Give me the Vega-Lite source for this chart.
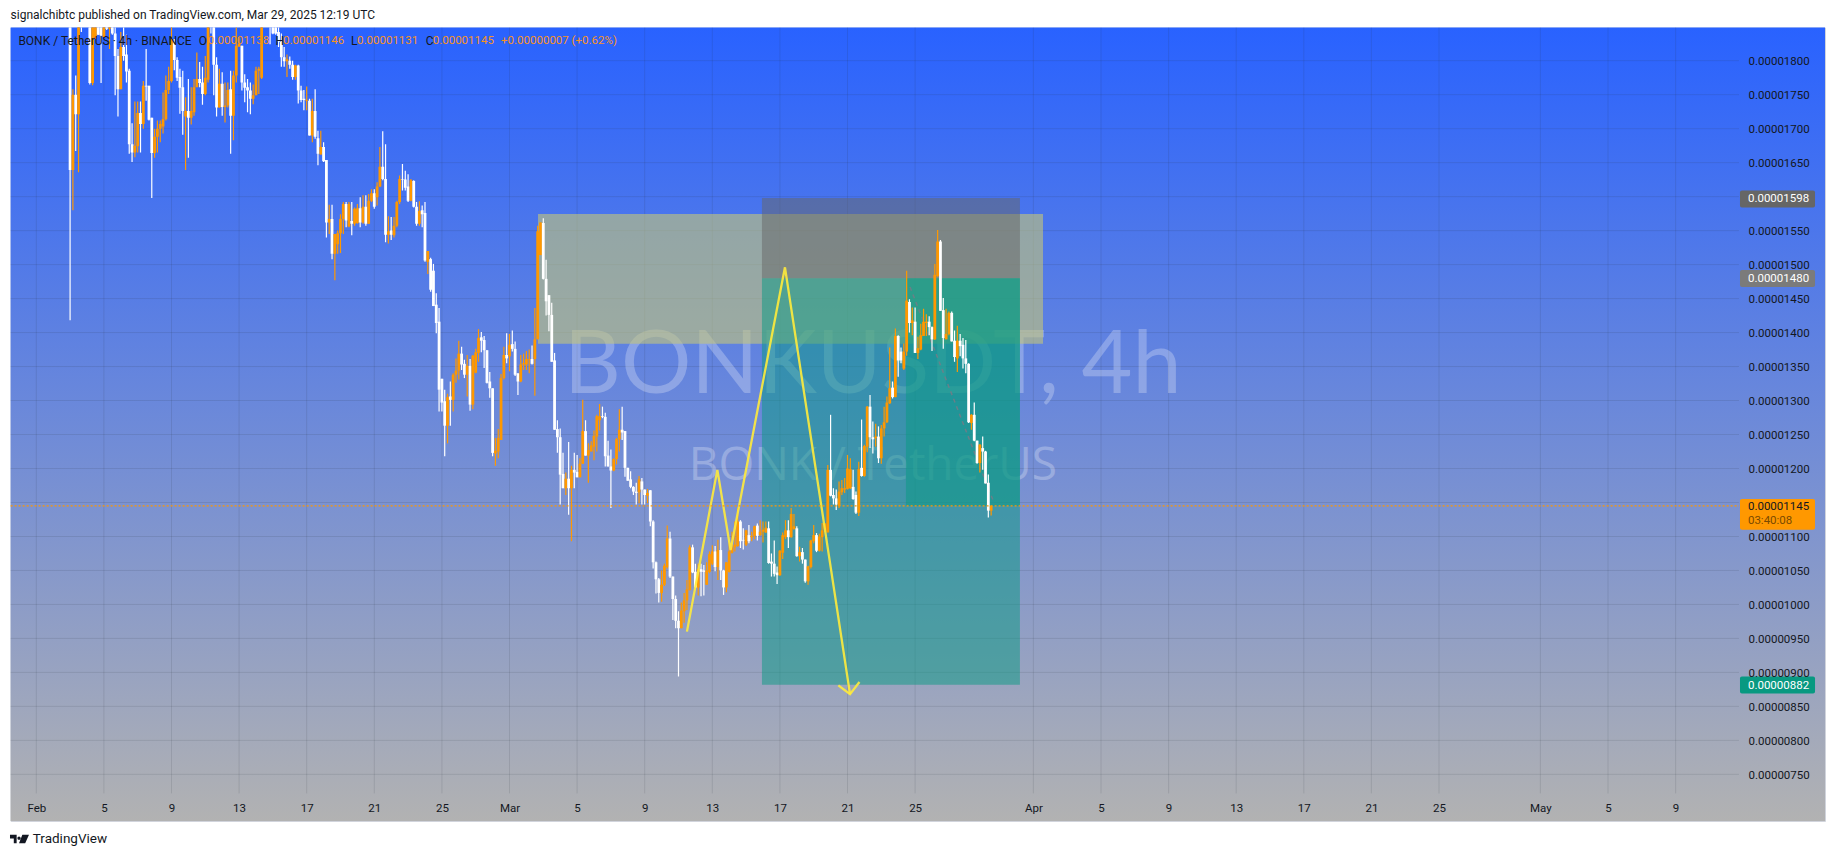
{"$schema":"https://vega.github.io/schema/vega-lite/v6.json","width":1814.4,"height":793.5,"autosize":{"type":"none"},"padding":{"left":10.6,"top":27.5,"right":10,"bottom":36},"background":"#ffffff","config":{"view":{"stroke":"#d1d4dc","strokeWidth":1},"font":"Roboto","scale":{"continuousPadding":0}},
"datasets":{
"candles":[
{"t":"2025-02-03T00:00Z","o":1900,"h":1920,"l":1418,"c":1639},{"t":"2025-02-03T04:00Z","o":1639,"h":1758,"l":1580,"c":1750},{"t":"2025-02-03T08:00Z","o":1750,"h":1778,"l":1667,"c":1721},{"t":"2025-02-03T12:00Z","o":1721,"h":1875,"l":1636,"c":1860},{"t":"2025-02-03T16:00Z","o":1860,"h":1880,"l":1842,"c":1853},{"t":"2025-02-03T20:00Z","o":1870,"h":1900,"l":1855,"c":1880},
{"t":"2025-02-04T00:00Z","o":1880,"h":1905,"l":1860,"c":1890},{"t":"2025-02-04T04:00Z","o":1890,"h":1900,"l":1765,"c":1767},{"t":"2025-02-04T08:00Z","o":1767,"h":1895,"l":1764,"c":1880},{"t":"2025-02-04T12:00Z","o":1834,"h":1890,"l":1832,"c":1875},{"t":"2025-02-04T16:00Z","o":1875,"h":1885,"l":1838,"c":1838},{"t":"2025-02-04T20:00Z","o":1860,"h":1870,"l":1767,"c":1837},
{"t":"2025-02-05T00:00Z","o":1835,"h":1870,"l":1835,"c":1860},{"t":"2025-02-05T04:00Z","o":1860,"h":1870,"l":1845,"c":1847},{"t":"2025-02-05T08:00Z","o":1847,"h":1865,"l":1817,"c":1855},{"t":"2025-02-05T12:00Z","o":1855,"h":1870,"l":1838,"c":1840},{"t":"2025-02-05T16:00Z","o":1840,"h":1860,"l":1749,"c":1807},{"t":"2025-02-05T20:00Z","o":1807,"h":1817,"l":1718,"c":1758},
{"t":"2025-02-06T00:00Z","o":1758,"h":1842,"l":1758,"c":1820},{"t":"2025-02-06T04:00Z","o":1820,"h":1855,"l":1800,"c":1807},{"t":"2025-02-06T08:00Z","o":1809,"h":1838,"l":1768,"c":1784},{"t":"2025-02-06T12:00Z","o":1785,"h":1788,"l":1663,"c":1677},{"t":"2025-02-06T16:00Z","o":1677,"h":1708,"l":1651,"c":1665},{"t":"2025-02-06T20:00Z","o":1665,"h":1740,"l":1658,"c":1675},
{"t":"2025-02-07T00:00Z","o":1674,"h":1740,"l":1665,"c":1723},{"t":"2025-02-07T04:00Z","o":1723,"h":1740,"l":1665,"c":1707},{"t":"2025-02-07T08:00Z","o":1707,"h":1770,"l":1700,"c":1763},{"t":"2025-02-07T12:00Z","o":1763,"h":1817,"l":1741,"c":1762},{"t":"2025-02-07T16:00Z","o":1763,"h":1763,"l":1712,"c":1713},{"t":"2025-02-07T20:00Z","o":1716,"h":1716,"l":1598,"c":1664},
{"t":"2025-02-08T00:00Z","o":1664,"h":1700,"l":1657,"c":1688},{"t":"2025-02-08T04:00Z","o":1688,"h":1712,"l":1665,"c":1700},{"t":"2025-02-08T08:00Z","o":1700,"h":1712,"l":1680,"c":1707},{"t":"2025-02-08T12:00Z","o":1703,"h":1753,"l":1693,"c":1714},{"t":"2025-02-08T16:00Z","o":1714,"h":1778,"l":1712,"c":1757},{"t":"2025-02-08T20:00Z","o":1757,"h":1791,"l":1751,"c":1770},
{"t":"2025-02-09T00:00Z","o":1770,"h":1860,"l":1768,"c":1832},{"t":"2025-02-09T04:00Z","o":1827,"h":1832,"l":1786,"c":1801},{"t":"2025-02-09T08:00Z","o":1801,"h":1805,"l":1770,"c":1775},{"t":"2025-02-09T12:00Z","o":1776,"h":1788,"l":1722,"c":1760},{"t":"2025-02-09T16:00Z","o":1761,"h":1785,"l":1691,"c":1726},{"t":"2025-02-09T20:00Z","o":1718,"h":1746,"l":1639,"c":1726},
{"t":"2025-02-10T00:00Z","o":1726,"h":1773,"l":1657,"c":1716},{"t":"2025-02-10T04:00Z","o":1716,"h":1761,"l":1706,"c":1726},{"t":"2025-02-10T08:00Z","o":1724,"h":1773,"l":1719,"c":1761},{"t":"2025-02-10T12:00Z","o":1761,"h":1812,"l":1763,"c":1773},{"t":"2025-02-10T16:00Z","o":1773,"h":1798,"l":1761,"c":1767},{"t":"2025-02-10T20:00Z","o":1768,"h":1791,"l":1735,"c":1751},
{"t":"2025-02-11T00:00Z","o":1751,"h":1807,"l":1749,"c":1775},{"t":"2025-02-11T04:00Z","o":1772,"h":1880,"l":1768,"c":1860},{"t":"2025-02-11T08:00Z","o":1865,"h":1880,"l":1840,"c":1855},{"t":"2025-02-11T12:00Z","o":1855,"h":1870,"l":1749,"c":1794},{"t":"2025-02-11T16:00Z","o":1794,"h":1805,"l":1718,"c":1731},{"t":"2025-02-11T20:00Z","o":1731,"h":1788,"l":1731,"c":1766},
{"t":"2025-02-12T00:00Z","o":1766,"h":1783,"l":1719,"c":1732},{"t":"2025-02-12T04:00Z","o":1732,"h":1768,"l":1709,"c":1734},{"t":"2025-02-12T08:00Z","o":1734,"h":1768,"l":1731,"c":1757},{"t":"2025-02-12T12:00Z","o":1758,"h":1785,"l":1663,"c":1719},{"t":"2025-02-12T16:00Z","o":1719,"h":1785,"l":1683,"c":1778},{"t":"2025-02-12T20:00Z","o":1778,"h":1849,"l":1768,"c":1822},
{"t":"2025-02-13T00:00Z","o":1821,"h":1834,"l":1820,"c":1825},{"t":"2025-02-13T04:00Z","o":1822,"h":1822,"l":1756,"c":1768},{"t":"2025-02-13T08:00Z","o":1768,"h":1780,"l":1739,"c":1760},{"t":"2025-02-13T12:00Z","o":1761,"h":1773,"l":1724,"c":1756},{"t":"2025-02-13T16:00Z","o":1756,"h":1768,"l":1721,"c":1744},{"t":"2025-02-13T20:00Z","o":1744,"h":1765,"l":1736,"c":1749},
{"t":"2025-02-14T00:00Z","o":1749,"h":1791,"l":1749,"c":1785},{"t":"2025-02-14T04:00Z","o":1785,"h":1791,"l":1751,"c":1788},{"t":"2025-02-14T08:00Z","o":1775,"h":1875,"l":1773,"c":1860},{"t":"2025-02-14T12:00Z","o":1860,"h":1885,"l":1855,"c":1870},{"t":"2025-02-14T16:00Z","o":1870,"h":1890,"l":1860,"c":1880},{"t":"2025-02-14T20:00Z","o":1880,"h":1895,"l":1824,"c":1865},
{"t":"2025-02-15T00:00Z","o":1865,"h":1875,"l":1839,"c":1840},{"t":"2025-02-15T04:00Z","o":1855,"h":1870,"l":1838,"c":1840},{"t":"2025-02-15T08:00Z","o":1842,"h":1855,"l":1820,"c":1828},{"t":"2025-02-15T12:00Z","o":1828,"h":1840,"l":1791,"c":1805},{"t":"2025-02-15T16:00Z","o":1805,"h":1820,"l":1791,"c":1799},{"t":"2025-02-15T20:00Z","o":1799,"h":1809,"l":1776,"c":1802},
{"t":"2025-02-16T00:00Z","o":1800,"h":1806,"l":1788,"c":1794},{"t":"2025-02-16T04:00Z","o":1794,"h":1800,"l":1772,"c":1776},{"t":"2025-02-16T08:00Z","o":1776,"h":1794,"l":1772,"c":1793},{"t":"2025-02-16T12:00Z","o":1793,"h":1794,"l":1737,"c":1756},{"t":"2025-02-16T16:00Z","o":1756,"h":1763,"l":1739,"c":1742},{"t":"2025-02-16T20:00Z","o":1744,"h":1757,"l":1727,"c":1742},
{"t":"2025-02-17T00:00Z","o":1741,"h":1762,"l":1727,"c":1742},{"t":"2025-02-17T04:00Z","o":1741,"h":1744,"l":1690,"c":1690},{"t":"2025-02-17T08:00Z","o":1690,"h":1744,"l":1680,"c":1726},{"t":"2025-02-17T12:00Z","o":1726,"h":1758,"l":1685,"c":1688},{"t":"2025-02-17T16:00Z","o":1686,"h":1697,"l":1646,"c":1663},{"t":"2025-02-17T20:00Z","o":1662,"h":1697,"l":1662,"c":1673},
{"t":"2025-02-18T00:00Z","o":1673,"h":1680,"l":1651,"c":1652},{"t":"2025-02-18T04:00Z","o":1654,"h":1654,"l":1540,"c":1562},{"t":"2025-02-18T08:00Z","o":1562,"h":1588,"l":1545,"c":1567},{"t":"2025-02-18T12:00Z","o":1567,"h":1588,"l":1508,"c":1516},{"t":"2025-02-18T16:00Z","o":1516,"h":1545,"l":1477,"c":1545},{"t":"2025-02-18T20:00Z","o":1530,"h":1550,"l":1516,"c":1546},
{"t":"2025-02-19T00:00Z","o":1546,"h":1574,"l":1517,"c":1567},{"t":"2025-02-19T04:00Z","o":1567,"h":1592,"l":1545,"c":1589},{"t":"2025-02-19T08:00Z","o":1589,"h":1592,"l":1555,"c":1565},{"t":"2025-02-19T12:00Z","o":1556,"h":1592,"l":1555,"c":1589},{"t":"2025-02-19T16:00Z","o":1564,"h":1592,"l":1543,"c":1560},{"t":"2025-02-19T20:00Z","o":1560,"h":1584,"l":1557,"c":1582},
{"t":"2025-02-20T00:00Z","o":1561,"h":1589,"l":1560,"c":1583},{"t":"2025-02-20T04:00Z","o":1583,"h":1599,"l":1555,"c":1562},{"t":"2025-02-20T08:00Z","o":1562,"h":1602,"l":1560,"c":1585},{"t":"2025-02-20T12:00Z","o":1585,"h":1602,"l":1557,"c":1560},{"t":"2025-02-20T16:00Z","o":1560,"h":1604,"l":1560,"c":1594},{"t":"2025-02-20T20:00Z","o":1594,"h":1611,"l":1592,"c":1605},
{"t":"2025-02-21T00:00Z","o":1605,"h":1611,"l":1582,"c":1585},{"t":"2025-02-21T04:00Z","o":1599,"h":1621,"l":1587,"c":1615},{"t":"2025-02-21T08:00Z","o":1615,"h":1673,"l":1614,"c":1644},{"t":"2025-02-21T12:00Z","o":1644,"h":1696,"l":1624,"c":1626},{"t":"2025-02-21T16:00Z","o":1626,"h":1677,"l":1533,"c":1544},{"t":"2025-02-21T20:00Z","o":1544,"h":1571,"l":1531,"c":1549},
{"t":"2025-02-22T00:00Z","o":1550,"h":1570,"l":1536,"c":1544},{"t":"2025-02-22T04:00Z","o":1543,"h":1570,"l":1540,"c":1557},{"t":"2025-02-22T08:00Z","o":1557,"h":1594,"l":1555,"c":1592},{"t":"2025-02-22T12:00Z","o":1592,"h":1631,"l":1589,"c":1626},{"t":"2025-02-22T16:00Z","o":1626,"h":1648,"l":1609,"c":1625},{"t":"2025-02-22T20:00Z","o":1625,"h":1638,"l":1609,"c":1613},
{"t":"2025-02-23T00:00Z","o":1615,"h":1633,"l":1592,"c":1594},{"t":"2025-02-23T04:00Z","o":1594,"h":1626,"l":1593,"c":1624},{"t":"2025-02-23T08:00Z","o":1623,"h":1624,"l":1584,"c":1585},{"t":"2025-02-23T12:00Z","o":1585,"h":1592,"l":1557,"c":1560},{"t":"2025-02-23T16:00Z","o":1560,"h":1593,"l":1557,"c":1579},{"t":"2025-02-23T20:00Z","o":1580,"h":1587,"l":1555,"c":1574},
{"t":"2025-02-24T00:00Z","o":1576,"h":1592,"l":1504,"c":1506},{"t":"2025-02-24T04:00Z","o":1504,"h":1520,"l":1486,"c":1520},{"t":"2025-02-24T08:00Z","o":1508,"h":1510,"l":1460,"c":1463},{"t":"2025-02-24T12:00Z","o":1491,"h":1501,"l":1439,"c":1439},{"t":"2025-02-24T16:00Z","o":1441,"h":1458,"l":1399,"c":1414},{"t":"2025-02-24T20:00Z","o":1416,"h":1436,"l":1284,"c":1316},
{"t":"2025-02-25T00:00Z","o":1332,"h":1332,"l":1284,"c":1297},{"t":"2025-02-25T04:00Z","o":1299,"h":1316,"l":1218,"c":1263},{"t":"2025-02-25T08:00Z","o":1263,"h":1310,"l":1237,"c":1305},{"t":"2025-02-25T12:00Z","o":1306,"h":1328,"l":1263,"c":1301},{"t":"2025-02-25T16:00Z","o":1301,"h":1340,"l":1284,"c":1338},{"t":"2025-02-25T20:00Z","o":1338,"h":1362,"l":1326,"c":1344},
{"t":"2025-02-26T00:00Z","o":1344,"h":1388,"l":1331,"c":1369},{"t":"2025-02-26T04:00Z","o":1369,"h":1379,"l":1345,"c":1353},{"t":"2025-02-26T08:00Z","o":1354,"h":1360,"l":1333,"c":1338},{"t":"2025-02-26T12:00Z","o":1338,"h":1367,"l":1306,"c":1351},{"t":"2025-02-26T16:00Z","o":1351,"h":1361,"l":1285,"c":1294},{"t":"2025-02-26T20:00Z","o":1294,"h":1367,"l":1287,"c":1366},
{"t":"2025-02-27T00:00Z","o":1341,"h":1376,"l":1340,"c":1371},{"t":"2025-02-27T04:00Z","o":1370,"h":1405,"l":1357,"c":1392},{"t":"2025-02-27T08:00Z","o":1393,"h":1401,"l":1371,"c":1388},{"t":"2025-02-27T12:00Z","o":1389,"h":1395,"l":1348,"c":1374},{"t":"2025-02-27T16:00Z","o":1374,"h":1374,"l":1325,"c":1326},{"t":"2025-02-27T20:00Z","o":1328,"h":1342,"l":1304,"c":1318},
{"t":"2025-02-28T00:00Z","o":1318,"h":1318,"l":1218,"c":1223},{"t":"2025-02-28T04:00Z","o":1222,"h":1245,"l":1204,"c":1226},{"t":"2025-02-28T08:00Z","o":1225,"h":1258,"l":1215,"c":1245},{"t":"2025-02-28T12:00Z","o":1242,"h":1339,"l":1242,"c":1333},{"t":"2025-02-28T16:00Z","o":1333,"h":1379,"l":1331,"c":1367},{"t":"2025-02-28T20:00Z","o":1367,"h":1399,"l":1355,"c":1362},
{"t":"2025-03-01T00:00Z","o":1365,"h":1398,"l":1343,"c":1382},{"t":"2025-03-01T04:00Z","o":1383,"h":1403,"l":1372,"c":1376},{"t":"2025-03-01T08:00Z","o":1376,"h":1387,"l":1336,"c":1338},{"t":"2025-03-01T12:00Z","o":1340,"h":1340,"l":1308,"c":1328},{"t":"2025-03-01T16:00Z","o":1328,"h":1367,"l":1327,"c":1353},{"t":"2025-03-01T20:00Z","o":1353,"h":1369,"l":1345,"c":1355},
{"t":"2025-03-02T00:00Z","o":1353,"h":1373,"l":1345,"c":1361},{"t":"2025-03-02T04:00Z","o":1360,"h":1375,"l":1340,"c":1361},{"t":"2025-03-02T08:00Z","o":1361,"h":1381,"l":1353,"c":1354},{"t":"2025-03-02T12:00Z","o":1361,"h":1436,"l":1307,"c":1390},{"t":"2025-03-02T16:00Z","o":1390,"h":1557,"l":1390,"c":1549},{"t":"2025-03-02T20:00Z","o":1514,"h":1562,"l":1514,"c":1562},
{"t":"2025-03-03T00:00Z","o":1561,"h":1568,"l":1478,"c":1479},{"t":"2025-03-03T04:00Z","o":1479,"h":1507,"l":1425,"c":1446},{"t":"2025-03-03T08:00Z","o":1455,"h":1455,"l":1402,"c":1426},{"t":"2025-03-03T12:00Z","o":1426,"h":1444,"l":1357,"c":1357},{"t":"2025-03-03T16:00Z","o":1359,"h":1370,"l":1257,"c":1257},{"t":"2025-03-03T20:00Z","o":1258,"h":1271,"l":1223,"c":1246},
{"t":"2025-03-04T00:00Z","o":1246,"h":1259,"l":1147,"c":1191},{"t":"2025-03-04T04:00Z","o":1192,"h":1223,"l":1171,"c":1171},{"t":"2025-03-04T08:00Z","o":1171,"h":1194,"l":1161,"c":1185},{"t":"2025-03-04T12:00Z","o":1185,"h":1239,"l":1132,"c":1171},{"t":"2025-03-04T16:00Z","o":1171,"h":1204,"l":1093,"c":1198},{"t":"2025-03-04T20:00Z","o":1198,"h":1223,"l":1171,"c":1194},
{"t":"2025-03-05T00:00Z","o":1195,"h":1220,"l":1187,"c":1187},{"t":"2025-03-05T04:00Z","o":1187,"h":1215,"l":1187,"c":1207},{"t":"2025-03-05T08:00Z","o":1207,"h":1301,"l":1207,"c":1255},{"t":"2025-03-05T12:00Z","o":1255,"h":1271,"l":1219,"c":1219},{"t":"2025-03-05T16:00Z","o":1219,"h":1237,"l":1179,"c":1227},{"t":"2025-03-05T20:00Z","o":1225,"h":1240,"l":1225,"c":1234},
{"t":"2025-03-06T00:00Z","o":1232,"h":1256,"l":1212,"c":1248},{"t":"2025-03-06T04:00Z","o":1247,"h":1279,"l":1225,"c":1277},{"t":"2025-03-06T08:00Z","o":1271,"h":1295,"l":1256,"c":1277},{"t":"2025-03-06T12:00Z","o":1277,"h":1291,"l":1274,"c":1276},{"t":"2025-03-06T16:00Z","o":1276,"h":1282,"l":1203,"c":1218},{"t":"2025-03-06T20:00Z","o":1219,"h":1241,"l":1203,"c":1203},
{"t":"2025-03-07T00:00Z","o":1203,"h":1228,"l":1142,"c":1197},{"t":"2025-03-07T04:00Z","o":1197,"h":1215,"l":1196,"c":1214},{"t":"2025-03-07T08:00Z","o":1214,"h":1245,"l":1206,"c":1243},{"t":"2025-03-07T12:00Z","o":1243,"h":1287,"l":1225,"c":1257},{"t":"2025-03-07T16:00Z","o":1257,"h":1291,"l":1242,"c":1253},{"t":"2025-03-07T20:00Z","o":1255,"h":1255,"l":1188,"c":1201},
{"t":"2025-03-08T00:00Z","o":1201,"h":1201,"l":1182,"c":1182},{"t":"2025-03-08T04:00Z","o":1184,"h":1196,"l":1171,"c":1173},{"t":"2025-03-08T08:00Z","o":1173,"h":1174,"l":1161,"c":1166},{"t":"2025-03-08T12:00Z","o":1166,"h":1179,"l":1147,"c":1164},{"t":"2025-03-08T16:00Z","o":1165,"h":1189,"l":1149,"c":1184},{"t":"2025-03-08T20:00Z","o":1181,"h":1186,"l":1147,"c":1169},
{"t":"2025-03-09T00:00Z","o":1169,"h":1169,"l":1147,"c":1161},{"t":"2025-03-09T04:00Z","o":1160,"h":1170,"l":1149,"c":1164},{"t":"2025-03-09T08:00Z","o":1168,"h":1168,"l":1115,"c":1122},{"t":"2025-03-09T12:00Z","o":1122,"h":1124,"l":1053,"c":1062},{"t":"2025-03-09T16:00Z","o":1062,"h":1063,"l":1016,"c":1037},{"t":"2025-03-09T20:00Z","o":1037,"h":1039,"l":1003,"c":1017},
{"t":"2025-03-10T00:00Z","o":1017,"h":1050,"l":1004,"c":1029},{"t":"2025-03-10T04:00Z","o":1029,"h":1060,"l":1027,"c":1057},{"t":"2025-03-10T08:00Z","o":1055,"h":1116,"l":1053,"c":1097},{"t":"2025-03-10T12:00Z","o":1097,"h":1107,"l":1039,"c":1041},{"t":"2025-03-10T16:00Z","o":1041,"h":1041,"l":977,"c":1008},{"t":"2025-03-10T20:00Z","o":1008,"h":1013,"l":965,"c":976},
{"t":"2025-03-11T00:00Z","o":976,"h":990,"l":894,"c":965},{"t":"2025-03-11T04:00Z","o":965,"h":1003,"l":965,"c":991},{"t":"2025-03-11T08:00Z","o":990,"h":1017,"l":973,"c":1006},{"t":"2025-03-11T12:00Z","o":1006,"h":1036,"l":992,"c":1022},{"t":"2025-03-11T16:00Z","o":1021,"h":1087,"l":1021,"c":1084},{"t":"2025-03-11T20:00Z","o":1084,"h":1088,"l":1046,"c":1047},
{"t":"2025-03-12T00:00Z","o":1048,"h":1060,"l":1024,"c":1025},{"t":"2025-03-12T04:00Z","o":1025,"h":1060,"l":1013,"c":1052},{"t":"2025-03-12T08:00Z","o":1052,"h":1060,"l":1012,"c":1048},{"t":"2025-03-12T12:00Z","o":1050,"h":1058,"l":1013,"c":1048},{"t":"2025-03-12T16:00Z","o":1029,"h":1062,"l":1029,"c":1050},{"t":"2025-03-12T20:00Z","o":1048,"h":1078,"l":1046,"c":1074},
{"t":"2025-03-13T00:00Z","o":1060,"h":1087,"l":1058,"c":1078},{"t":"2025-03-13T04:00Z","o":1078,"h":1086,"l":1049,"c":1055},{"t":"2025-03-13T08:00Z","o":1055,"h":1095,"l":1036,"c":1080},{"t":"2025-03-13T12:00Z","o":1080,"h":1099,"l":1036,"c":1050},{"t":"2025-03-13T16:00Z","o":1050,"h":1051,"l":1014,"c":1025},{"t":"2025-03-13T20:00Z","o":1025,"h":1062,"l":1018,"c":1062},
{"t":"2025-03-14T00:00Z","o":1048,"h":1093,"l":1047,"c":1078},{"t":"2025-03-14T04:00Z","o":1076,"h":1107,"l":1075,"c":1084},{"t":"2025-03-14T08:00Z","o":1084,"h":1122,"l":1078,"c":1088},{"t":"2025-03-14T12:00Z","o":1086,"h":1142,"l":1085,"c":1122},{"t":"2025-03-14T16:00Z","o":1122,"h":1124,"l":1083,"c":1093},{"t":"2025-03-14T20:00Z","o":1095,"h":1112,"l":1081,"c":1094},
{"t":"2025-03-15T00:00Z","o":1088,"h":1110,"l":1086,"c":1109},{"t":"2025-03-15T04:00Z","o":1102,"h":1117,"l":1090,"c":1093},{"t":"2025-03-15T08:00Z","o":1099,"h":1107,"l":1093,"c":1101},{"t":"2025-03-15T12:00Z","o":1101,"h":1116,"l":1096,"c":1115},{"t":"2025-03-15T16:00Z","o":1116,"h":1119,"l":1094,"c":1101},{"t":"2025-03-15T20:00Z","o":1102,"h":1124,"l":1101,"c":1107},
{"t":"2025-03-16T00:00Z","o":1107,"h":1122,"l":1091,"c":1110},{"t":"2025-03-16T04:00Z","o":1106,"h":1122,"l":1105,"c":1113},{"t":"2025-03-16T08:00Z","o":1112,"h":1122,"l":1060,"c":1061},{"t":"2025-03-16T12:00Z","o":1063,"h":1075,"l":1041,"c":1060},{"t":"2025-03-16T16:00Z","o":1060,"h":1094,"l":1041,"c":1045},{"t":"2025-03-16T20:00Z","o":1047,"h":1056,"l":1030,"c":1043},
{"t":"2025-03-17T00:00Z","o":1043,"h":1080,"l":1042,"c":1079},{"t":"2025-03-17T04:00Z","o":1076,"h":1106,"l":1067,"c":1102},{"t":"2025-03-17T08:00Z","o":1099,"h":1124,"l":1096,"c":1109},{"t":"2025-03-17T12:00Z","o":1109,"h":1124,"l":1083,"c":1099},{"t":"2025-03-17T16:00Z","o":1099,"h":1142,"l":1098,"c":1133},{"t":"2025-03-17T20:00Z","o":1111,"h":1133,"l":1110,"c":1115},
{"t":"2025-03-18T00:00Z","o":1112,"h":1115,"l":1070,"c":1071},{"t":"2025-03-18T04:00Z","o":1071,"h":1085,"l":1063,"c":1077},{"t":"2025-03-18T08:00Z","o":1077,"h":1083,"l":1060,"c":1066},{"t":"2025-03-18T12:00Z","o":1066,"h":1066,"l":1032,"c":1034},{"t":"2025-03-18T16:00Z","o":1034,"h":1057,"l":1029,"c":1056},{"t":"2025-03-18T20:00Z","o":1055,"h":1095,"l":1053,"c":1094},
{"t":"2025-03-19T00:00Z","o":1093,"h":1117,"l":1090,"c":1102},{"t":"2025-03-19T04:00Z","o":1102,"h":1105,"l":1077,"c":1079},{"t":"2025-03-19T08:00Z","o":1079,"h":1104,"l":1078,"c":1100},{"t":"2025-03-19T12:00Z","o":1099,"h":1120,"l":1078,"c":1109},{"t":"2025-03-19T16:00Z","o":1110,"h":1120,"l":1107,"c":1119},{"t":"2025-03-19T20:00Z","o":1106,"h":1205,"l":1106,"c":1198},
{"t":"2025-03-20T00:00Z","o":1198,"h":1279,"l":1159,"c":1160},{"t":"2025-03-20T04:00Z","o":1161,"h":1171,"l":1147,"c":1156},{"t":"2025-03-20T08:00Z","o":1156,"h":1169,"l":1139,"c":1147},{"t":"2025-03-20T12:00Z","o":1145,"h":1181,"l":1142,"c":1166},{"t":"2025-03-20T16:00Z","o":1165,"h":1183,"l":1161,"c":1171},{"t":"2025-03-20T20:00Z","o":1169,"h":1186,"l":1164,"c":1171},
{"t":"2025-03-21T00:00Z","o":1170,"h":1220,"l":1169,"c":1200},{"t":"2025-03-21T04:00Z","o":1171,"h":1215,"l":1170,"c":1199},{"t":"2025-03-21T08:00Z","o":1173,"h":1198,"l":1154,"c":1155},{"t":"2025-03-21T12:00Z","o":1161,"h":1166,"l":1133,"c":1135},{"t":"2025-03-21T16:00Z","o":1135,"h":1210,"l":1130,"c":1199},{"t":"2025-03-21T20:00Z","o":1201,"h":1272,"l":1188,"c":1189},
{"t":"2025-03-22T00:00Z","o":1189,"h":1235,"l":1188,"c":1233},{"t":"2025-03-22T04:00Z","o":1232,"h":1292,"l":1224,"c":1291},{"t":"2025-03-22T08:00Z","o":1291,"h":1308,"l":1230,"c":1246},{"t":"2025-03-22T12:00Z","o":1246,"h":1269,"l":1222,"c":1243},{"t":"2025-03-22T16:00Z","o":1245,"h":1266,"l":1232,"c":1247},{"t":"2025-03-22T20:00Z","o":1247,"h":1262,"l":1208,"c":1215},
{"t":"2025-03-23T00:00Z","o":1215,"h":1264,"l":1207,"c":1259},{"t":"2025-03-23T04:00Z","o":1259,"h":1291,"l":1247,"c":1268},{"t":"2025-03-23T08:00Z","o":1268,"h":1306,"l":1267,"c":1297},{"t":"2025-03-23T12:00Z","o":1296,"h":1378,"l":1295,"c":1318},{"t":"2025-03-23T16:00Z","o":1319,"h":1328,"l":1303,"c":1305},{"t":"2025-03-23T20:00Z","o":1305,"h":1406,"l":1305,"c":1395},
{"t":"2025-03-24T00:00Z","o":1395,"h":1396,"l":1335,"c":1359},{"t":"2025-03-24T04:00Z","o":1372,"h":1378,"l":1355,"c":1359},{"t":"2025-03-24T08:00Z","o":1347,"h":1384,"l":1345,"c":1372},{"t":"2025-03-24T12:00Z","o":1372,"h":1491,"l":1366,"c":1447},{"t":"2025-03-24T16:00Z","o":1445,"h":1449,"l":1400,"c":1414},{"t":"2025-03-24T20:00Z","o":1414,"h":1437,"l":1396,"c":1418},
{"t":"2025-03-25T00:00Z","o":1416,"h":1437,"l":1370,"c":1370},{"t":"2025-03-25T04:00Z","o":1370,"h":1394,"l":1361,"c":1377},{"t":"2025-03-25T08:00Z","o":1375,"h":1413,"l":1374,"c":1396},{"t":"2025-03-25T12:00Z","o":1395,"h":1435,"l":1395,"c":1416},{"t":"2025-03-25T16:00Z","o":1414,"h":1427,"l":1395,"c":1416},{"t":"2025-03-25T20:00Z","o":1416,"h":1424,"l":1396,"c":1408},
{"t":"2025-03-26T00:00Z","o":1408,"h":1409,"l":1373,"c":1390},{"t":"2025-03-26T04:00Z","o":1390,"h":1501,"l":1389,"c":1485},{"t":"2025-03-26T08:00Z","o":1483,"h":1551,"l":1482,"c":1534},{"t":"2025-03-26T12:00Z","o":1534,"h":1536,"l":1432,"c":1432},{"t":"2025-03-26T16:00Z","o":1433,"h":1451,"l":1376,"c":1392},{"t":"2025-03-26T20:00Z","o":1390,"h":1435,"l":1390,"c":1398},
{"t":"2025-03-27T00:00Z","o":1398,"h":1431,"l":1396,"c":1429},{"t":"2025-03-27T04:00Z","o":1429,"h":1431,"l":1387,"c":1387},{"t":"2025-03-27T08:00Z","o":1388,"h":1403,"l":1357,"c":1364},{"t":"2025-03-27T12:00Z","o":1362,"h":1410,"l":1342,"c":1388},{"t":"2025-03-27T16:00Z","o":1388,"h":1398,"l":1365,"c":1380},{"t":"2025-03-27T20:00Z","o":1382,"h":1392,"l":1347,"c":1362},
{"t":"2025-03-28T00:00Z","o":1362,"h":1389,"l":1340,"c":1354},{"t":"2025-03-28T04:00Z","o":1354,"h":1355,"l":1267,"c":1268},{"t":"2025-03-28T08:00Z","o":1267,"h":1280,"l":1257,"c":1279},{"t":"2025-03-28T12:00Z","o":1279,"h":1297,"l":1240,"c":1241},{"t":"2025-03-28T16:00Z","o":1241,"h":1241,"l":1207,"c":1208},{"t":"2025-03-28T20:00Z","o":1208,"h":1236,"l":1194,"c":1235},
{"t":"2025-03-29T00:00Z","o":1230,"h":1247,"l":1198,"c":1225},{"t":"2025-03-29T04:00Z","o":1225,"h":1226,"l":1178,"c":1178},{"t":"2025-03-29T08:00Z","o":1179,"h":1191,"l":1128,"c":1138},{"t":"2025-03-29T12:00Z","o":1138,"h":1146,"l":1131,"c":1145}
],
"gridY":[{"p":750},{"p":800},{"p":850},{"p":900},{"p":950},{"p":1000},{"p":1050},{"p":1100},{"p":1150},{"p":1200},{"p":1250},{"p":1300},{"p":1350},{"p":1400},{"p":1450},{"p":1500},{"p":1550},{"p":1600},{"p":1650},{"p":1700},{"p":1750},{"p":1800}],
"gridX":[{"d":1738368000000},{"d":1738713600000},{"d":1739059200000},{"d":1739404800000},{"d":1739750400000},{"d":1740096000000},{"d":1740441600000},{"d":1740787200000},{"d":1741132800000},{"d":1741478400000},{"d":1741824000000},{"d":1742169600000},{"d":1742515200000},{"d":1742860800000},{"d":1743465600000},{"d":1743811200000},{"d":1744156800000},{"d":1744502400000},{"d":1744848000000},{"d":1745193600000},{"d":1745539200000},{"d":1746057600000},{"d":1746403200000},{"d":1746748800000}],
"tags":[{"name":"stop","label":"0.00001598","t0":"2025-05-12T19:26Z","t1":"2025-05-17T06:00Z","tx":"2025-05-13T06:43Z","p0":1584,"p1":1609,"p":1598},{"name":"entry","label":"0.00001480","t0":"2025-05-12T19:26Z","t1":"2025-05-17T06:00Z","tx":"2025-05-13T06:43Z","p0":1467,"p1":1492,"p":1480},{"name":"last","label":"0.00001145","t0":"2025-05-12T19:26Z","t1":"2025-05-17T06:00Z","tx":"2025-05-13T06:43Z","p0":1110,"p1":1155,"p":1145},{"name":"target","label":"0.00000882","t0":"2025-05-12T19:26Z","t1":"2025-05-17T06:00Z","tx":"2025-05-13T06:43Z","p0":869,"p1":894,"p":882}],
"path":[{"s":"zigzag","n":0,"t":"2025-03-11T12:00Z","p":960},{"s":"zigzag","n":1,"t":"2025-03-13T07:12Z","p":1198},{"s":"zigzag","n":2,"t":"2025-03-14T02:00Z","p":1080},{"s":"zigzag","n":3,"t":"2025-03-17T07:12Z","p":1496},{"s":"zigzag","n":4,"t":"2025-03-21T03:36Z","p":868},{"s":"head","n":0,"t":"2025-03-20T11:00Z","p":881},{"s":"head","n":1,"t":"2025-03-21T03:36Z","p":868},{"s":"head","n":2,"t":"2025-03-21T17:00Z","p":886}],
"legendBlack":[{"text":"BONK / TetherUS · 4h · BINANCE","t":"2025-01-30T22:35Z","p":1828.5},{"text":"O","t":"2025-02-10T14:46Z","p":1828.5},{"text":"H","t":"2025-02-15T03:36Z","p":1828.5},{"text":"L","t":"2025-02-19T14:53Z","p":1828.5},{"text":"C","t":"2025-02-24T01:00Z","p":1828.5}],
"legendOrange":[{"text":"0.00001138","t":"2025-02-11T03:50Z","p":1828.5},{"text":"0.00001146","t":"2025-02-15T14:24Z","p":1828.5},{"text":"0.00001131","t":"2025-02-19T23:30Z","p":1828.5},{"text":"0.00001145","t":"2025-02-24T11:00Z","p":1828.5},{"text":"+0.00000007 (+0.62%)","t":"2025-02-28T12:00Z","p":1828.5}]
},
"layer":[
{"data":{"values":[{"t0":1738236672000,"t1":1747512576000,"p0":681.4,"p1":1848.8}]},"mark":{"type":"rect","fill":{"x1":0,"y1":0,"x2":0,"y2":1,"gradient":"linear","stops":[{"offset":0,"color":"#2962ff"},{"offset":1,"color":"#b2b2b2"}]}},"encoding":{
"x":{"field":"t0","type":"temporal","scale":{"type":"utc","domain":[1738236672000,1747512576000]},"title":null,"axis":{"zindex":1,"grid":false,"domain":false,"ticks":false,"tickSize":0,"title":null,"labelOverlap":false,"labelFlush":false,"labelBound":false,"labelPadding":-13,"labelBaseline":"middle","labelFont":"Roboto","labelFontSize":11.5,"labelColor":"#131722","values":[1738368000000,1738713600000,1739059200000,1739404800000,1739750400000,1740096000000,1740441600000,1740787200000,1741132800000,1741478400000,1741824000000,1742169600000,1742515200000,1742860800000,1743465600000,1743811200000,1744156800000,1744502400000,1744848000000,1745193600000,1745539200000,1746057600000,1746403200000,1746748800000],"labelExpr":"utcdate(datum.value)==1?utcFormat(datum.value,'%b'):utcFormat(datum.value,'%-d')"}},"x2":{"field":"t1"},
"y":{"field":"p0","type":"quantitative","scale":{"domain":[681.4,1848.8],"nice":false,"zero":false},"title":null,"axis":{"orient":"right","zindex":1,"grid":false,"domain":false,"ticks":false,"tickSize":0,"title":null,"labelOverlap":false,"labelFlush":false,"labelBound":false,"labelAlign":"left","labelBaseline":"middle","labelPadding":-77,"labelOffset":1,"labelFont":"Roboto","labelFontSize":11.5,"labelColor":"#131722","values":[750,800,850,900,950,1000,1050,1100,1200,1250,1300,1350,1400,1450,1500,1550,1650,1700,1750,1800],"labelExpr":"format(datum.value/100000000,'.8f')"}},"y2":{"field":"p1"}}},
{"data":{"name":"gridY"},"mark":{"type":"rule","color":"#2a2e39","opacity":0.12,"strokeWidth":1},"encoding":{"y":{"field":"p","type":"quantitative","title":null,"scale":{"domain":[681.4,1848.8],"nice":false,"zero":false}},"x":{"datum":1738236672000,"type":"temporal","scale":{"type":"utc","domain":[1738236672000,1747512576000]},"title":null},"x2":{"datum":1747072800000}}},
{"data":{"name":"gridX"},"mark":{"type":"rule","color":"#2a2e39","opacity":0.12,"strokeWidth":1},"encoding":{"x":{"field":"d","type":"temporal","title":null,"scale":{"type":"utc","domain":[1738236672000,1747512576000]}},"y":{"datum":722,"type":"quantitative","title":null,"scale":{"domain":[681.4,1848.8],"nice":false,"zero":false}},"y2":{"datum":1848.8}}},
{"data":{"values":[{"text":"BONKUSDT, 4h","t":"2025-03-22T12:00Z","p":1349}]},"mark":{"type":"text","font":"Lato","fontSize":88,"color":"#ffffff","opacity":0.26,"align":"center","baseline":"middle"},"encoding":{"text":{"field":"text"},"x":{"field":"t","type":"temporal","title":null,"scale":{"type":"utc","domain":[1738236672000,1747512576000]}},"y":{"field":"p","type":"quantitative","title":null,"scale":{"domain":[681.4,1848.8],"nice":false,"zero":false}}}},
{"data":{"values":[{"text":"BONK / TetherUS","t":"2025-03-22T12:00Z","p":1203}]},"mark":{"type":"text","font":"Open Sans","fontSize":46,"color":"#ffffff","opacity":0.26,"align":"center","baseline":"middle"},"encoding":{"text":{"field":"text"},"x":{"field":"t","type":"temporal","title":null,"scale":{"type":"utc","domain":[1738236672000,1747512576000]}},"y":{"field":"p","type":"quantitative","title":null,"scale":{"domain":[681.4,1848.8],"nice":false,"zero":false}}}},
{"data":{"values":[{"t0":"2025-03-02T16:30Z","t1":"2025-04-01T13:40Z","p0":1383.6,"p1":1574.5}]},"mark":{"type":"rect","color":"#c5c678","opacity":0.6},"encoding":{"x":{"field":"t0","type":"temporal","title":null,"scale":{"type":"utc","domain":[1738236672000,1747512576000]}},"x2":{"field":"t1"},"y":{"field":"p0","type":"quantitative","title":null,"scale":{"domain":[681.4,1848.8],"nice":false,"zero":false}},"y2":{"field":"p1"}}},
{"data":{"values":[{"t0":"2025-03-15T22:30Z","t1":"2025-03-31T04:50Z","p0":1480,"p1":1598}]},"mark":{"type":"rect","color":"#666666","opacity":0.5},"encoding":{"x":{"field":"t0","type":"temporal","title":null,"scale":{"type":"utc","domain":[1738236672000,1747512576000]}},"x2":{"field":"t1"},"y":{"field":"p0","type":"quantitative","title":null,"scale":{"domain":[681.4,1848.8],"nice":false,"zero":false}},"y2":{"field":"p1"}}},
{"data":{"values":[{"t0":"2025-03-15T22:30Z","t1":"2025-03-31T04:50Z","p0":882,"p1":1480}]},"mark":{"type":"rect","color":"#089981","opacity":0.5},"encoding":{"x":{"field":"t0","type":"temporal","title":null,"scale":{"type":"utc","domain":[1738236672000,1747512576000]}},"x2":{"field":"t1"},"y":{"field":"p0","type":"quantitative","title":null,"scale":{"domain":[681.4,1848.8],"nice":false,"zero":false}},"y2":{"field":"p1"}}},
{"data":{"values":[{"t0":"2025-03-24T11:00Z","t1":"2025-03-31T04:50Z","p0":1145,"p1":1480}]},"mark":{"type":"rect","color":"#089981","opacity":0.5},"encoding":{"x":{"field":"t0","type":"temporal","title":null,"scale":{"type":"utc","domain":[1738236672000,1747512576000]}},"x2":{"field":"t1"},"y":{"field":"p0","type":"quantitative","title":null,"scale":{"domain":[681.4,1848.8],"nice":false,"zero":false}},"y2":{"field":"p1"}}},
{"data":{"values":[{"t0":"2025-03-24T16:50Z","t1":"2025-03-29T14:24Z","p0":1467,"p1":1154}]},"mark":{"type":"rule","color":"#787b86","strokeWidth":1.5,"strokeDash":[4,4],"opacity":0.8},"encoding":{"x":{"field":"t0","type":"temporal","title":null,"scale":{"type":"utc","domain":[1738236672000,1747512576000]}},"x2":{"field":"t1"},"y":{"field":"p0","type":"quantitative","title":null,"scale":{"domain":[681.4,1848.8],"nice":false,"zero":false}},"y2":{"field":"p1"}}},
{"data":{"name":"candles"},"mark":{"type":"rule","strokeWidth":1.2,"clip":true},"encoding":{"x":{"field":"t","type":"temporal","title":null,"scale":{"type":"utc","domain":[1738236672000,1747512576000]}},"y":{"field":"l","type":"quantitative","title":null,"scale":{"domain":[681.4,1848.8],"nice":false,"zero":false}},"y2":{"field":"h"},"color":{"condition":{"test":"datum.c>=datum.o","value":"#ff9800"},"value":"#ffffff"}}},
{"data":{"name":"candles"},"mark":{"type":"bar","size":2.8,"clip":true},"encoding":{"x":{"field":"t","type":"temporal","title":null,"scale":{"type":"utc","domain":[1738236672000,1747512576000]}},"y":{"field":"o","type":"quantitative","title":null,"scale":{"domain":[681.4,1848.8],"nice":false,"zero":false}},"y2":{"field":"c"},"color":{"condition":{"test":"datum.c>=datum.o","value":"#ff9800"},"value":"#ffffff"}}},
{"data":{"name":"path"},"mark":{"type":"line","color":"#ffeb3b","strokeWidth":2.3,"opacity":0.9},"encoding":{"x":{"field":"t","type":"temporal","title":null,"scale":{"type":"utc","domain":[1738236672000,1747512576000]}},"y":{"field":"p","type":"quantitative","title":null,"scale":{"domain":[681.4,1848.8],"nice":false,"zero":false}},"detail":{"field":"s"},"order":{"field":"n"}}},
{"data":{"values":[{"p":1145}]},"mark":{"type":"rule","color":"#ff9800","strokeWidth":1.3,"strokeDash":[2,2]},"encoding":{"y":{"field":"p","type":"quantitative","title":null,"scale":{"domain":[681.4,1848.8],"nice":false,"zero":false}},"x":{"datum":1738236672000,"type":"temporal","scale":{"type":"utc","domain":[1738236672000,1747512576000]},"title":null},"x2":{"datum":1747072800000}}},
{"data":{"name":"tags"},"mark":{"type":"rect","cornerRadius":2},"encoding":{"x":{"field":"t0","type":"temporal","title":null,"scale":{"type":"utc","domain":[1738236672000,1747512576000]}},"x2":{"field":"t1"},"y":{"field":"p0","type":"quantitative","title":null,"scale":{"domain":[681.4,1848.8],"nice":false,"zero":false}},"y2":{"field":"p1"},"color":{"field":"name","type":"nominal","legend":null,"scale":{"domain":["stop","entry","last","target"],"range":["#666666","#7b7b7b","#ff9800","#089981"]}}}},
{"data":{"name":"tags"},"transform":[{"filter":"datum.name!='last'"}],"mark":{"type":"text","align":"left","baseline":"middle","font":"Roboto","fontSize":11.5,"color":"#ffffff","dy":1},"encoding":{"x":{"field":"tx","type":"temporal","title":null,"scale":{"type":"utc","domain":[1738236672000,1747512576000]}},"y":{"field":"p","type":"quantitative","title":null,"scale":{"domain":[681.4,1848.8],"nice":false,"zero":false}},"text":{"field":"label"}}},
{"data":{"values":[{"text":"0.00001145","t":"2025-05-13T06:43Z","p":1145}]},"mark":{"type":"text","align":"left","baseline":"middle","font":"Roboto","fontSize":11.5,"color":"#131722","dy":1},"encoding":{"x":{"field":"t","type":"temporal","title":null,"scale":{"type":"utc","domain":[1738236672000,1747512576000]}},"y":{"field":"p","type":"quantitative","title":null,"scale":{"domain":[681.4,1848.8],"nice":false,"zero":false}},"text":{"field":"text"}}},
{"data":{"values":[{"text":"03:40:08","t":"2025-05-13T06:43Z","p":1124.5}]},"mark":{"type":"text","align":"left","baseline":"middle","font":"Roboto","fontSize":11.5,"color":"#7a4a00","dy":1},"encoding":{"x":{"field":"t","type":"temporal","title":null,"scale":{"type":"utc","domain":[1738236672000,1747512576000]}},"y":{"field":"p","type":"quantitative","title":null,"scale":{"domain":[681.4,1848.8],"nice":false,"zero":false}},"text":{"field":"text"}}},
{"data":{"name":"legendBlack"},"mark":{"type":"text","align":"left","baseline":"middle","font":"Roboto","fontSize":12,"color":"#131722"},"encoding":{"x":{"field":"t","type":"temporal","title":null,"scale":{"type":"utc","domain":[1738236672000,1747512576000]}},"y":{"field":"p","type":"quantitative","title":null,"scale":{"domain":[681.4,1848.8],"nice":false,"zero":false}},"text":{"field":"text"}}},
{"data":{"name":"legendOrange"},"mark":{"type":"text","align":"left","baseline":"middle","font":"Roboto","fontSize":11.5,"color":"#f7931e"},"encoding":{"x":{"field":"t","type":"temporal","title":null,"scale":{"type":"utc","domain":[1738236672000,1747512576000]}},"y":{"field":"p","type":"quantitative","title":null,"scale":{"domain":[681.4,1848.8],"nice":false,"zero":false}},"text":{"field":"text"}}},
{"data":{"values":[{"text":"signalchibtc published on TradingView.com, Mar 29, 2025 12:19 UTC","t":"2025-01-30T11:31Z","p":1867}]},"mark":{"type":"text","align":"left","baseline":"middle","font":"Roboto","fontSize":12,"color":"#131722"},"encoding":{"x":{"field":"t","type":"temporal","title":null,"scale":{"type":"utc","domain":[1738236672000,1747512576000]}},"y":{"field":"p","type":"quantitative","title":null,"scale":{"domain":[681.4,1848.8],"nice":false,"zero":false}},"text":{"field":"text"}}},
{"data":{"values":[{"text":"TradingView","t":"2025-01-31T19:00Z","p":655}]},"mark":{"type":"text","align":"left","baseline":"middle","font":"Roboto","fontSize":13.5,"color":"#131722"},"encoding":{"x":{"field":"t","type":"temporal","title":null,"scale":{"type":"utc","domain":[1738236672000,1747512576000]}},"y":{"field":"p","type":"quantitative","title":null,"scale":{"domain":[681.4,1848.8],"nice":false,"zero":false}},"text":{"field":"text"}}},
{"data":{"values":[{"t":"2025-01-31T00:09Z","p":655}]},"mark":{"type":"point","filled":true,"color":"#131722","opacity":1,"size":361,"strokeWidth":0,"shape":"M-1-.45H-.3V.45H-.6V-.05H-1Z M-.05-.25a.17.17 0 1 0 .001 0Z M.3-.45H1L.6.45H-.05Z"},"encoding":{"x":{"field":"t","type":"temporal","title":null,"scale":{"type":"utc","domain":[1738236672000,1747512576000]}},"y":{"field":"p","type":"quantitative","title":null,"scale":{"domain":[681.4,1848.8],"nice":false,"zero":false}}}}
]}
